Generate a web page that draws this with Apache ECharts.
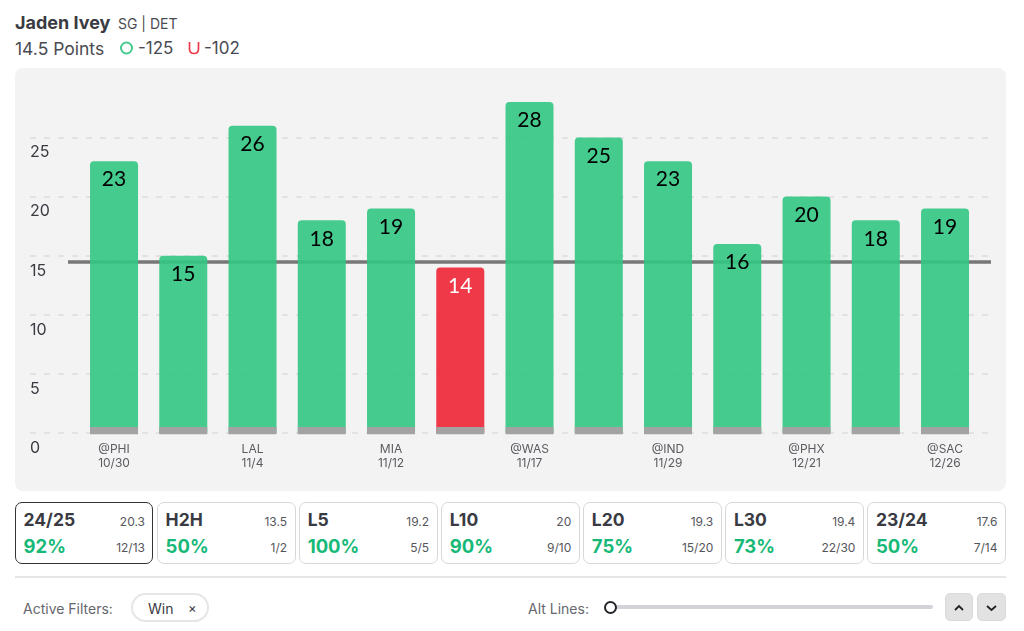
<!DOCTYPE html>
<html>
<head>
<meta charset="utf-8">
<script src="https://cdn.jsdelivr.net/npm/echarts@6/dist/echarts.min.js"></script>
<style>
  html, body { margin: 0; padding: 0; background: #fff; }
  body { width: 1024px; height: 631px; position: relative; overflow: hidden; font-family: Inter, sans-serif; color: #3a3b42; }
  .abs { position: absolute; white-space: nowrap; }
  #chart { position: absolute; left: 15px; top: 68px; width: 991px; height: 423px; background: #f3f3f3; border-radius: 8px; overflow: hidden; }
  #cards { position: absolute; left: 15px; top: 502px; width: 991px; display: flex; gap: 3.6px; }
  .card { position: relative; flex: 1; height: 60px; border: 1.5px solid #d8d8d8; border-radius: 7px; box-sizing: content-box; background: #fff; }
  .card.sel { border-color: #33343a; }
  .card div { position: absolute; white-space: nowrap; }
  .card .name { left: 7.500px; top: 6px; font-size: 17.5px; font-weight: 700; color: #3a3b42; }
  .card .avg { right: 7.500px; top: 10.500px; font-size: 12px; color: #55565c; }
  .card .pct { left: 7.500px; top: 31.500px; font-size: 18.5px; font-weight: 700; color: #17b978; }
  .card .frac { right: 7.500px; top: 36.500px; font-size: 12px; color: #55565c; }
  .btn { position: absolute; top: 593px; width: 28px; height: 28px; background: #e2e2e2; border: 1px solid #dadada; border-radius: 5px; box-sizing: border-box; }
</style>
</head>
<body>
<div class="abs" style="left:15px;top:12px;font-size:18px;font-weight:700">Jaden Ivey</div>
<div class="abs" style="left:118px;top:15px;font-size:14px;color:#4a4b52">SG | DET</div>
<div class="abs" style="left:15px;top:38px;font-size:17.5px;color:#4a4b52">14.5 Points</div>
<svg class="abs" style="left:120px;top:41px" width="14" height="14"><circle cx="6.5" cy="7" r="5.5" fill="none" stroke="#46cb8e" stroke-width="2"/></svg>
<div class="abs" style="left:138px;top:38px;font-size:17px;color:#4a4b52">-125</div>
<svg class="abs" style="left:188px;top:41px" width="12" height="14"><path d="M1.5 1 V8 Q1.5 12.5 6 12.5 Q10.5 12.5 10.5 8 V1" fill="none" stroke="#ef3a4a" stroke-width="1.7"/></svg>
<div class="abs" style="left:204px;top:38px;font-size:17px;color:#4a4b52">-102</div>

<div id="chart"></div>
<div id="cards"></div>

<div class="abs" style="left:15px;top:576px;width:991px;height:2px;background:#e6e6e6"></div>
<div class="abs" style="left:23px;top:600px;font-size:14px;color:#66676d">Active Filters:</div>
<div class="abs" style="left:131px;top:593px;width:78px;height:29px;box-sizing:border-box;border:2px solid #e6e6e6;border-radius:15px"></div>
<div class="abs" style="left:148px;top:600px;font-size:14px;color:#3a3b42">Win</div>
<div class="abs" style="left:188px;top:600px;font-size:13px;color:#3a3b42">×</div>
<div class="abs" style="left:528px;top:600px;font-size:14px;color:#66676d">Alt Lines:</div>
<div class="abs" style="left:612px;top:605px;width:321px;height:4px;background:#d2d2d8;border-radius:2px"></div>
<div class="abs" style="left:604px;top:601px;width:13px;height:13px;box-sizing:border-box;border:2px solid #25262b;border-radius:50%;background:#fff"></div>
<div class="btn" style="left:945px"><svg width="26" height="26"><path d="M9 16 L13 12 L17 16" fill="none" stroke="#222" stroke-width="1.8"/></svg></div>
<div class="btn" style="left:977px;width:29px"><svg width="27" height="26"><path d="M9 12 L13.500 16 L18 12" fill="none" stroke="#222" stroke-width="1.8"/></svg></div>

<script>
var opponents = ['@PHI', '', 'LAL', '', 'MIA', '', '@WAS', '', '@IND', '', '@PHX', '', '@SAC'];
var dates = ['10/30', '', '11/4', '', '11/12', '', '11/17', '', '11/29', '', '12/21', '', '12/26'];
var points = [23, 15, 26, 18, 19, 14, 28, 25, 23, 16, 20, 18, 19];
var propLine = 14.5;
var baseStrip = [0.5, 0.5, 0.5, 0.5, 0.5, 0.5, 0.5, 0.5, 0.5, 0.5, 0.5, 0.5, 0.5];
var baseUnder = [-0.1, -0.1, -0.1, -0.1, -0.1, -0.1, -0.1, -0.1, -0.1, -0.1, -0.1, -0.1, -0.1];

var cardNames = ['24/25', 'H2H', 'L5', 'L10', 'L20', 'L30', '23/24'];
var cardAvgs = ['20.3', '13.5', '19.2', '20', '19.3', '19.4', '17.6'];
var cardPcts = ['92%', '50%', '100%', '90%', '75%', '73%', '50%'];
var cardFracs = ['12/13', '1/2', '5/5', '9/10', '15/20', '22/30', '7/14'];

var cardsEl = document.getElementById('cards');
cardNames.forEach(function (name, i) {
  var c = document.createElement('div');
  c.className = 'card' + (i === 0 ? ' sel' : '');
  c.innerHTML = '<div class="name">' + name + '</div><div class="avg">' + cardAvgs[i] + '</div>' +
    '<div class="pct">' + cardPcts[i] + '</div><div class="frac">' + cardFracs[i] + '</div>';
  cardsEl.appendChild(c);
});

var categories = opponents.map(function (o, i) { return o + '\n' + dates[i]; });

var chart = echarts.init(document.getElementById('chart'));
var sharedY = { type: 'value', min: 0, max: 30, interval: 5 };

var option = {
  animation: false,
  // same vertical span, different widths: grid 0 dashes, grid 1 bars, grid 2 prop line
  grid: [
    { left: 15, right: 15, top: 10.4, height: 354.6 },
    { left: 64.4, width: 900.25, top: 10.4, height: 354.6 },
    { left: 53, right: 15, top: 10.4, height: 354.6 }
  ],
  xAxis: [
    { gridIndex: 0, type: 'category', data: [''], show: false },
    {
      gridIndex: 1, type: 'category', data: categories,
      axisLine: { show: false }, axisTick: { show: false },
      axisLabel: { interval: 0, margin: 9, fontFamily: 'Inter', fontSize: 12, lineHeight: 14, color: '#5a5b61' }
    },
    { gridIndex: 2, type: 'category', data: [''], show: false }
  ],
  yAxis: [
    Object.assign({}, sharedY, {
      gridIndex: 0,
      axisLine: { show: false }, axisTick: { show: false },
      axisLabel: {
        inside: true, margin: 0, showMaxLabel: false, verticalAlign: 'top', padding: [7, 0, 0, 0],
        fontFamily: 'Inter', fontSize: 16, color: '#3a3b42'
      },
      splitLine: { showMaxLine: false, lineStyle: { color: '#dddddd', width: 1.5, type: [6, 8] } }
    }),
    Object.assign({}, sharedY, { gridIndex: 1, show: false }),
    Object.assign({}, sharedY, { gridIndex: 2, show: false })
  ],
  series: [
    {
      type: 'line', xAxisIndex: 2, yAxisIndex: 2, data: [], z: 1, silent: true,
      markLine: {
        z: 1, symbol: 'none', silent: true, label: { show: false },
        lineStyle: { color: '#777777', width: 3.5, type: 'solid' },
        data: [{ yAxis: propLine }]
      }
    },
    {
      type: 'bar', xAxisIndex: 1, yAxisIndex: 1, barWidth: 48, z: 3,
      data: points.map(function (v) {
        var hit = v > propLine;
        return {
          value: v,
          itemStyle: { color: hit ? 'rgba(51,199,131,0.9)' : 'rgba(239,52,68,0.98)', borderRadius: [4, 4, 0, 0] },
          label: { color: hit ? '#000000' : '#ffffff' }
        };
      }),
      label: { show: true, position: 'insideTop', distance: 8, fontFamily: 'Lato', fontSize: 21 }
    },
    {
      type: 'bar', xAxisIndex: 1, yAxisIndex: 1, barWidth: 48, barGap: '-100%', z: 4, clip: false, stack: 'base',
      itemStyle: { color: '#a3a3a3' },
      data: baseStrip
    },
    {
      type: 'bar', xAxisIndex: 1, yAxisIndex: 1, barWidth: 48, z: 4, clip: false, stack: 'base',
      itemStyle: { color: '#a3a3a3' },
      data: baseUnder
    }
  ]
};
chart.setOption(option);
</script>
</body>
</html>
